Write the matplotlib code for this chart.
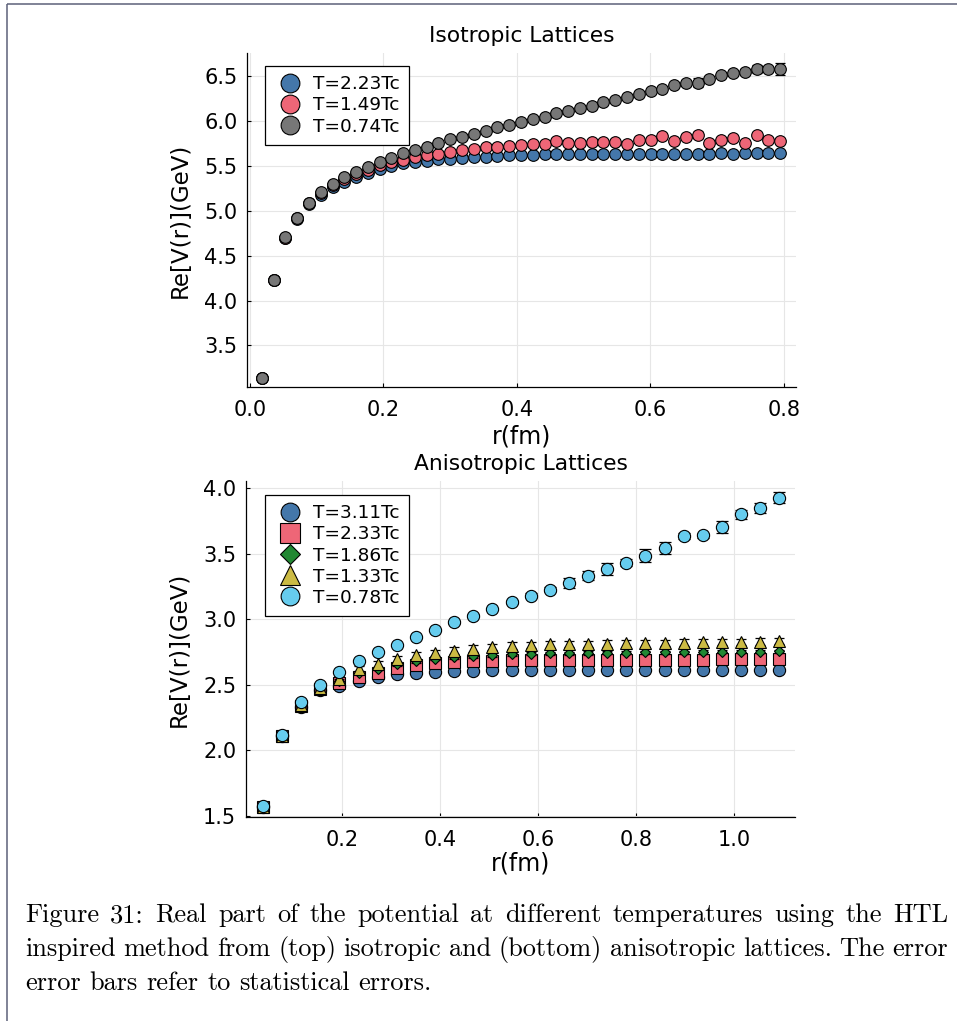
import matplotlib
matplotlib.use("Agg")
import matplotlib.pyplot as plt
from matplotlib.lines import Line2D

# ---- isotropic lattices: r in fm, Re V in GeV ----
r_iso = [0.0177, 0.0353, 0.0530, 0.0706, 0.0883, 0.1059, 0.1236, 0.1412, 0.1589,
         0.1765, 0.1942, 0.2118, 0.2295, 0.2471, 0.2648, 0.2824, 0.3001, 0.3177,
         0.3354, 0.3530, 0.3707, 0.3883, 0.4060, 0.4236, 0.4413, 0.4589, 0.4766,
         0.4942, 0.5119, 0.5295, 0.5472, 0.5648, 0.5825, 0.6001, 0.6178, 0.6354,
         0.6531, 0.6707, 0.6884, 0.7060, 0.7237, 0.7413, 0.7590, 0.7766, 0.7943]

v_iso_223 = [3.140, 4.225, 4.698, 4.912, 5.075, 5.180, 5.267, 5.323, 5.379,
             5.417, 5.461, 5.501, 5.528, 5.546, 5.556, 5.572, 5.579, 5.590,
             5.595, 5.601, 5.609, 5.617, 5.620, 5.624, 5.627, 5.630, 5.632,
             5.633, 5.632, 5.634, 5.633, 5.634, 5.635, 5.634, 5.635, 5.636,
             5.635, 5.636, 5.636, 5.637, 5.636, 5.637, 5.637, 5.638, 5.637]
e_iso_223 = [0.003] * 45

v_iso_149 = [3.140, 4.228, 4.700, 4.918, 5.082, 5.193, 5.283, 5.350, 5.405,
             5.453, 5.505, 5.545, 5.570, 5.595, 5.615, 5.628, 5.652, 5.672,
             5.690, 5.706, 5.713, 5.720, 5.732, 5.743, 5.743, 5.780, 5.751,
             5.757, 5.768, 5.768, 5.768, 5.743, 5.784, 5.787, 5.832, 5.776,
             5.824, 5.843, 5.751, 5.787, 5.806, 5.751, 5.843, 5.787, 5.780]
e_iso_149 = [0.008, 0.008, 0.008, 0.008, 0.008, 0.008, 0.008, 0.008, 0.008,
             0.008, 0.008, 0.008, 0.008, 0.008, 0.008, 0.008, 0.008, 0.008,
             0.008, 0.008, 0.008, 0.008, 0.008, 0.008, 0.008, 0.015, 0.010,
             0.010, 0.010, 0.010, 0.010, 0.010, 0.015, 0.010, 0.030, 0.010,
             0.035, 0.040, 0.015, 0.012, 0.020, 0.012, 0.030, 0.020, 0.025]

v_iso_074 = [3.140, 4.228, 4.703, 4.922, 5.089, 5.204, 5.297, 5.372, 5.434,
             5.490, 5.546, 5.590, 5.639, 5.676, 5.713, 5.751, 5.795, 5.824,
             5.854, 5.891, 5.929, 5.954, 5.991, 6.018, 6.047, 6.091, 6.110,
             6.140, 6.169, 6.207, 6.233, 6.270, 6.300, 6.330, 6.359, 6.396,
             6.425, 6.425, 6.470, 6.508, 6.530, 6.548, 6.578, 6.574, 6.578]
e_iso_074 = [0.008, 0.008, 0.008, 0.008, 0.008, 0.008, 0.008, 0.008, 0.008,
             0.008, 0.008, 0.008, 0.008, 0.008, 0.008, 0.008, 0.008, 0.008,
             0.008, 0.008, 0.008, 0.008, 0.008, 0.008, 0.010, 0.010, 0.010,
             0.010, 0.010, 0.012, 0.012, 0.012, 0.012, 0.012, 0.015, 0.020,
             0.035, 0.050, 0.020, 0.020, 0.020, 0.025, 0.045, 0.030, 0.070]

# ---- anisotropic lattices ----
r_aniso = [0.039, 0.078, 0.117, 0.156, 0.195, 0.234, 0.273, 0.312, 0.351, 0.390,
           0.429, 0.468, 0.507, 0.546, 0.585, 0.624, 0.663, 0.702, 0.741, 0.780,
           0.819, 0.858, 0.897, 0.936, 0.975, 1.014, 1.053, 1.092]

v_an_311 = [1.570, 2.110, 2.335, 2.460, 2.490, 2.529, 2.563, 2.580, 2.593, 2.600,
            2.605, 2.608, 2.610, 2.611, 2.612, 2.612, 2.613, 2.613, 2.613, 2.614,
            2.614, 2.614, 2.615, 2.615, 2.615, 2.616, 2.616, 2.616]
e_an_311 = [0.004] * 28

v_an_233 = [1.570, 2.110, 2.340, 2.470, 2.515, 2.563, 2.593, 2.626, 2.649, 2.664,
            2.674, 2.681, 2.685, 2.689, 2.690, 2.690, 2.691, 2.691, 2.692, 2.692,
            2.692, 2.693, 2.693, 2.693, 2.694, 2.694, 2.694, 2.694]
e_an_233 = [0.015] * 28

v_an_186 = [1.570, 2.112, 2.340, 2.475, 2.530, 2.593, 2.623, 2.656, 2.681, 2.700,
            2.712, 2.720, 2.728, 2.735, 2.738, 2.740, 2.742, 2.744, 2.745, 2.747,
            2.748, 2.749, 2.750, 2.751, 2.752, 2.753, 2.754, 2.755]
e_an_186 = [0.012] * 28

v_an_133 = [1.570, 2.113, 2.345, 2.480, 2.545, 2.618, 2.656, 2.694, 2.725, 2.745,
            2.762, 2.776, 2.790, 2.800, 2.806, 2.809, 2.811, 2.813, 2.815, 2.817,
            2.818, 2.821, 2.823, 2.824, 2.827, 2.828, 2.831, 2.835]
e_an_133 = [0.025] * 28

v_an_078 = [1.574, 2.119, 2.373, 2.500, 2.601, 2.681, 2.750, 2.806, 2.867, 2.920,
            2.978, 3.029, 3.080, 3.132, 3.181, 3.227, 3.278, 3.333, 3.386, 3.434,
            3.485, 3.544, 3.637, 3.643, 3.703, 3.802, 3.848, 3.929]
e_an_078 = [0.008, 0.008, 0.008, 0.008, 0.008, 0.008, 0.008, 0.008, 0.008, 0.008,
            0.010, 0.010, 0.010, 0.015, 0.020, 0.020, 0.035, 0.035, 0.045, 0.030,
            0.050, 0.045, 0.020, 0.020, 0.047, 0.035, 0.038, 0.040]

iso_labels = ["T=2.23Tc", "T=1.49Tc", "T=0.74Tc"]
aniso_labels = ["T=3.11Tc", "T=2.33Tc", "T=1.86Tc", "T=1.33Tc", "T=0.78Tc"]

iso_xticks = [0.0, 0.2, 0.4, 0.6, 0.8]
iso_yticks = [3.5, 4.0, 4.5, 5.0, 5.5, 6.0, 6.5]
aniso_xticks = [0.2, 0.4, 0.6, 0.8, 1.0]
aniso_yticks = [1.5, 2.0, 2.5, 3.0, 3.5, 4.0]

caption = [
    "Figure 31: Real part of the potential at different temperatures using the HTL",
    "inspired method from (top) isotropic and (bottom) anisotropic lattices. The error",
    "error bars refer to statistical errors.",
]

BLUE, RED, GREEN, YELLOW, CYAN, GREY = "#4477AA", "#EE6677", "#228833", "#CCBB44", "#66CCEE", "#777777"

W_PX, H_PX = 957, 1021
fig = plt.figure(figsize=(W_PX / 100, H_PX / 100), dpi=100)


def px_axes(left, top, right, bottom):
    return fig.add_axes([left / W_PX, 1 - bottom / H_PX, (right - left) / W_PX, (bottom - top) / H_PX])


def style(ax, xticks, yticks):
    for s in ("top", "right"):
        ax.spines[s].set_visible(False)
    for s in ("left", "bottom"):
        ax.spines[s].set_linewidth(0.9)
    ax.set_xticks(xticks, [f"{t:.1f}" for t in xticks])
    ax.set_yticks(yticks, [f"{t:.1f}" for t in yticks])
    ax.grid(True, color="#e6e6e6", lw=0.8)
    ax.set_axisbelow(True)
    ax.tick_params(direction="in", length=3, width=0.8, labelsize=15, pad=7)
    ax.tick_params(axis="x", pad=9)


def series(ax, r, v, e, marker, color, ms, label, z, ecolor="black", cap=3.5):
    ax.errorbar(r, v, yerr=e, fmt="none", ecolor=ecolor, elinewidth=0.9,
                capsize=cap, capthick=0.9, zorder=z)
    ax.plot(r, v, ls="none", marker=marker, ms=ms, mfc=color, mec="black",
            mew=0.8, label=label, zorder=z + 0.5)


def legend(ax, anchor, sizes):
    leg = ax.legend(loc="upper left", bbox_to_anchor=anchor, borderaxespad=0,
                    fontsize=13.3, frameon=True, fancybox=False, framealpha=1,
                    edgecolor="black", borderpad=0.5, labelspacing=0.17,
                    handlelength=1.67, handletextpad=0.45)
    leg.get_frame().set_linewidth(0.9)
    for h, s in zip(leg.legend_handles, sizes):
        h.set_markersize(s)
    return leg


# top panel
ax1 = px_axes(247, 53, 796, 387)
style(ax1, iso_xticks, iso_yticks)
series(ax1, r_iso, v_iso_223, e_iso_223, "o", BLUE, 8.4, iso_labels[0], 3)
series(ax1, r_iso, v_iso_149, e_iso_149, "o", RED, 8.4, iso_labels[1], 4, ecolor=RED)
series(ax1, r_iso, v_iso_074, e_iso_074, "o", GREY, 8.4, iso_labels[2], 5)
ax1.set_xlim(-0.0045, 0.818)
ax1.set_ylim(3.037, 6.756)
ax1.set_title("Isotropic Lattices", fontsize=15.7, pad=8)
ax1.set_xlabel("r(fm)", fontsize=17)
ax1.set_ylabel("Re[V(r)](GeV)", fontsize=16.5)
ax1.xaxis.set_label_coords(0.5, -0.111)
ax1.yaxis.set_label_coords(-0.10, 0.5)
legend(ax1, ((265 - 247) / 549, 1 - (66 - 53) / 334), [13.5, 13.5, 13.5])

# bottom panel
ax2 = px_axes(246, 481, 795, 817)
style(ax2, aniso_xticks, aniso_yticks)
series(ax2, r_aniso, v_an_311, e_an_311, "o", BLUE, 8.8, aniso_labels[0], 3)
series(ax2, r_aniso, v_an_233, e_an_233, "s", RED, 8.2, aniso_labels[1], 4)
series(ax2, r_aniso, v_an_186, e_an_186, "D", GREEN, 5.3, aniso_labels[2], 5)
series(ax2, r_aniso, v_an_133, e_an_133, "^", YELLOW, 8.6, aniso_labels[3], 6)
series(ax2, r_aniso, v_an_078, e_an_078, "o", CYAN, 8.8, aniso_labels[4], 7, cap=4)
ax2.set_xlim(0.0045, 1.124)
ax2.set_ylim(1.492, 4.056)
ax2.set_title("Anisotropic Lattices", fontsize=15.7, pad=8)
ax2.set_xlabel("r(fm)", fontsize=17)
ax2.set_ylabel("Re[V(r)](GeV)", fontsize=16.5)
ax2.xaxis.set_label_coords(0.5, -0.104)
ax2.yaxis.set_label_coords(-0.10, 0.5)
legend(ax2, ((265 - 246) / 549, 1 - (495 - 481) / 336), [13.5, 14, 10.5, 14.5, 13.5])

# page frame
frame = dict(color="#5c6079", lw=1.1, solid_capstyle="butt")
fig.add_artist(Line2D([7 / W_PX, 1], [1 - 4 / H_PX] * 2, transform=fig.transFigure, **frame))
fig.add_artist(Line2D([7 / W_PX] * 2, [0, 1 - 4 / H_PX], transform=fig.transFigure, **frame))

# caption, justified like the typeset page
CAP_L, CAP_R = 25, 948
renderer = fig.canvas.get_renderer()


def word_widths(words, fs):
    arts = [fig.text(0, 0, w, fontfamily="cmr10", fontsize=fs) for w in words]
    ws = [a.get_window_extent(renderer).width for a in arts]
    for a in arts:
        a.remove()
    return ws


probe = caption[1].split()
pw = word_widths(probe, 10)
space10 = 0.333 * 10 * 100 / 72
cap_fs = 10 * (CAP_R - CAP_L) / (sum(pw) + 0.85 * space10 * (len(probe) - 1))

for i, (line, base) in enumerate(zip(caption, [922, 956, 990])):
    words = line.split()
    ws = word_widths(words, cap_fs)
    if i < 2:
        gap = (CAP_R - CAP_L - sum(ws)) / (len(words) - 1)
    else:
        gap = 0.333 * cap_fs * 100 / 72
    x = CAP_L
    for w, wd in zip(words, ws):
        fig.text(x / W_PX, 1 - base / H_PX, w, fontfamily="cmr10", fontsize=cap_fs,
                 va="baseline", ha="left")
        x += wd + gap

fig.savefig("out.png", dpi=100)
